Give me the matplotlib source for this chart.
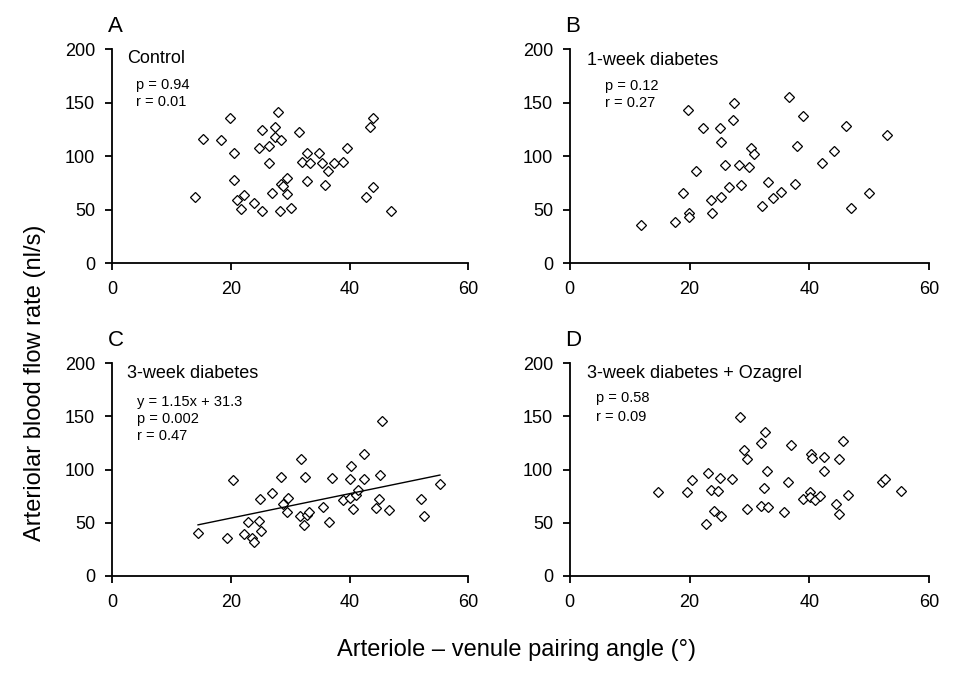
import matplotlib
matplotlib.use("Agg")
import matplotlib.pyplot as plt

plt.rcParams["font.family"] = ["Liberation Sans", "DejaVu Sans"]

# Panel A: control
ctrl_x = [14.0, 15.3, 18.4, 19.9, 20.5, 20.5, 21.0, 22.2, 21.8, 23.9, 25.3, 25.2, 24.8, 26.4,
          26.4, 26.9, 27.4, 27.4, 28.0, 28.4, 28.3, 28.5, 28.8, 29.4, 29.4, 30.1, 31.5, 32.0,
          32.8, 33.4, 32.8, 34.9, 35.4, 36.4, 35.9, 37.4, 38.9, 39.5, 43.4, 43.9, 42.8, 43.9, 47.0]
ctrl_y = [62, 116, 115, 136, 103, 78, 59, 64, 51, 56, 49, 125, 108, 110,
          94, 66, 127, 118, 141, 115, 49, 74, 72, 80, 65, 52, 123, 95,
          103, 94, 77, 103, 94, 86, 73, 94, 95, 108, 127, 136, 62, 71, 49]

# Panel B: 1-week diabetes
wk1_x = [11.9, 17.6, 18.9, 19.8, 19.9, 19.9, 21.0, 22.2, 23.6, 23.8, 25.0, 25.2, 25.3, 25.9,
         26.5, 27.3, 27.4, 28.2, 28.6, 29.9, 30.3, 30.8, 32.1, 33.1, 34.0, 35.2, 36.6, 37.6,
         38.0, 38.9, 42.1, 44.1, 46.1, 47.0, 50.0, 53.0]
wk1_y = [36, 39, 66, 143, 47, 43, 86, 126, 59, 47, 126, 113, 62, 92,
         71, 134, 150, 92, 73, 90, 108, 102, 54, 76, 61, 67, 155, 74,
         110, 138, 94, 105, 128, 52, 66, 120]

# Panel C: 3-week diabetes
wk3_x = [14.5, 19.4, 20.4, 22.3, 22.9, 23.5, 23.9, 24.7, 25.1, 25.0, 27.0, 28.4, 28.8, 29.7,
         29.5, 31.8, 31.7, 32.3, 32.8, 33.2, 32.5, 35.6, 36.5, 37.0, 38.9, 40.0, 40.3, 40.1,
         40.6, 41.0, 41.5, 42.4, 42.4, 44.4, 45.0, 45.1, 45.5, 46.6, 52.0, 52.5, 55.2]
wk3_y = [40, 36, 90, 39, 51, 36, 32, 52, 42, 72, 78, 93, 68, 73,
         60, 110, 56, 48, 57, 60, 93, 65, 51, 92, 71, 91, 103, 73,
         63, 76, 81, 91, 115, 64, 72, 95, 146, 62, 72, 56, 86]
fit_slope, fit_icpt = 1.15, 31.3

# Panel D: 3-week diabetes + Ozagrel
oza_x = [14.7, 19.6, 20.4, 22.7, 23.1, 23.6, 24.1, 24.7, 25.1, 25.2, 27.1, 28.4, 29.0, 29.6,
         29.6, 31.9, 32.0, 32.4, 32.6, 32.9, 33.1, 35.7, 36.5, 37.0, 39.0, 40.1, 40.3, 40.5,
         40.1, 40.9, 41.7, 42.5, 42.4, 44.5, 45.0, 45.0, 45.6, 46.5, 52.1, 52.6, 55.3]
oza_y = [79, 79, 90, 49, 97, 81, 61, 80, 92, 56, 91, 149, 118, 110,
         63, 66, 125, 83, 135, 99, 65, 60, 88, 123, 72, 79, 115, 111,
         74, 71, 75, 112, 99, 68, 110, 58, 127, 76, 88, 91, 80]

panels = [
    ("A", "Control", ["p = 0.94", "r = 0.01"], ctrl_x, ctrl_y, False),
    ("B", "1-week diabetes", ["p = 0.12", "r = 0.27"], wk1_x, wk1_y, False),
    ("C", "3-week diabetes", ["y = 1.15x + 31.3", "p = 0.002", "r = 0.47"], wk3_x, wk3_y, True),
    ("D", "3-week diabetes + Ozagrel", ["p = 0.58", "r = 0.09"], oza_x, oza_y, False),
]

# axes rectangles in figure fraction (left, bottom, width, height)
rects = [
    (0.117, 0.620, 0.373, 0.309),
    (0.596, 0.620, 0.376, 0.309),
    (0.117, 0.169, 0.373, 0.307),
    (0.596, 0.169, 0.376, 0.307),
]
# text placement per panel: (title x, title y, stats x, first stats y, line step)
text_pos = [
    (0.042, 0.958, 0.069, 0.832, 0.078),
    (0.048, 0.949, 0.097, 0.828, 0.078),
    (0.042, 0.950, 0.070, 0.817, 0.080),
    (0.048, 0.950, 0.072, 0.834, 0.086),
]

fig = plt.figure(figsize=(9.56, 6.93), dpi=100)

for (letter, title, stats, xs, ys, fit), rect, tp in zip(panels, rects, text_pos):
    ax = fig.add_axes(rect)
    ax.plot(xs, ys, linestyle="none", marker="D", markersize=5.2,
            markerfacecolor="white", markeredgecolor="black", markeredgewidth=0.9,
            clip_on=False)
    if fit:
        x0, x1 = min(xs), max(xs)
        ax.plot([x0, x1], [fit_slope * x0 + fit_icpt, fit_slope * x1 + fit_icpt],
                color="black", linewidth=1.0)
    ax.set_xlim(0, 60)
    ax.set_ylim(0, 200)
    ax.set_xticks([0, 20, 40, 60])
    ax.set_yticks([0, 50, 100, 150, 200])
    for side in ("top", "right"):
        ax.spines[side].set_visible(False)
    for side in ("left", "bottom"):
        ax.spines[side].set_linewidth(1.3)
    ax.tick_params(direction="out", length=5, width=1.3, labelsize=13, color="black")
    ax.tick_params(axis="x", pad=8)
    ax.tick_params(axis="y", pad=7)

    tx, ty, sx, sy, step = tp
    ax.text(tx, ty, title, transform=ax.transAxes, fontsize=13, va="center", ha="left")
    for i, s in enumerate(stats):
        ax.text(sx, sy - i * step, s, transform=ax.transAxes, fontsize=10.5,
                va="center", ha="left")
    ax.text(-0.012, 1.107, letter, transform=ax.transAxes, fontsize=16,
            va="center", ha="left")

fig.text(0.037, 0.447, "Arteriolar blood flow rate (nl/s)", rotation=90,
         fontsize=17, va="center", ha="center")
fig.text(0.54, 0.062, "Arteriole \u2013 venule pairing angle (\u00b0)",
         fontsize=17, va="center", ha="center")

fig.savefig("out.png", dpi=100)
